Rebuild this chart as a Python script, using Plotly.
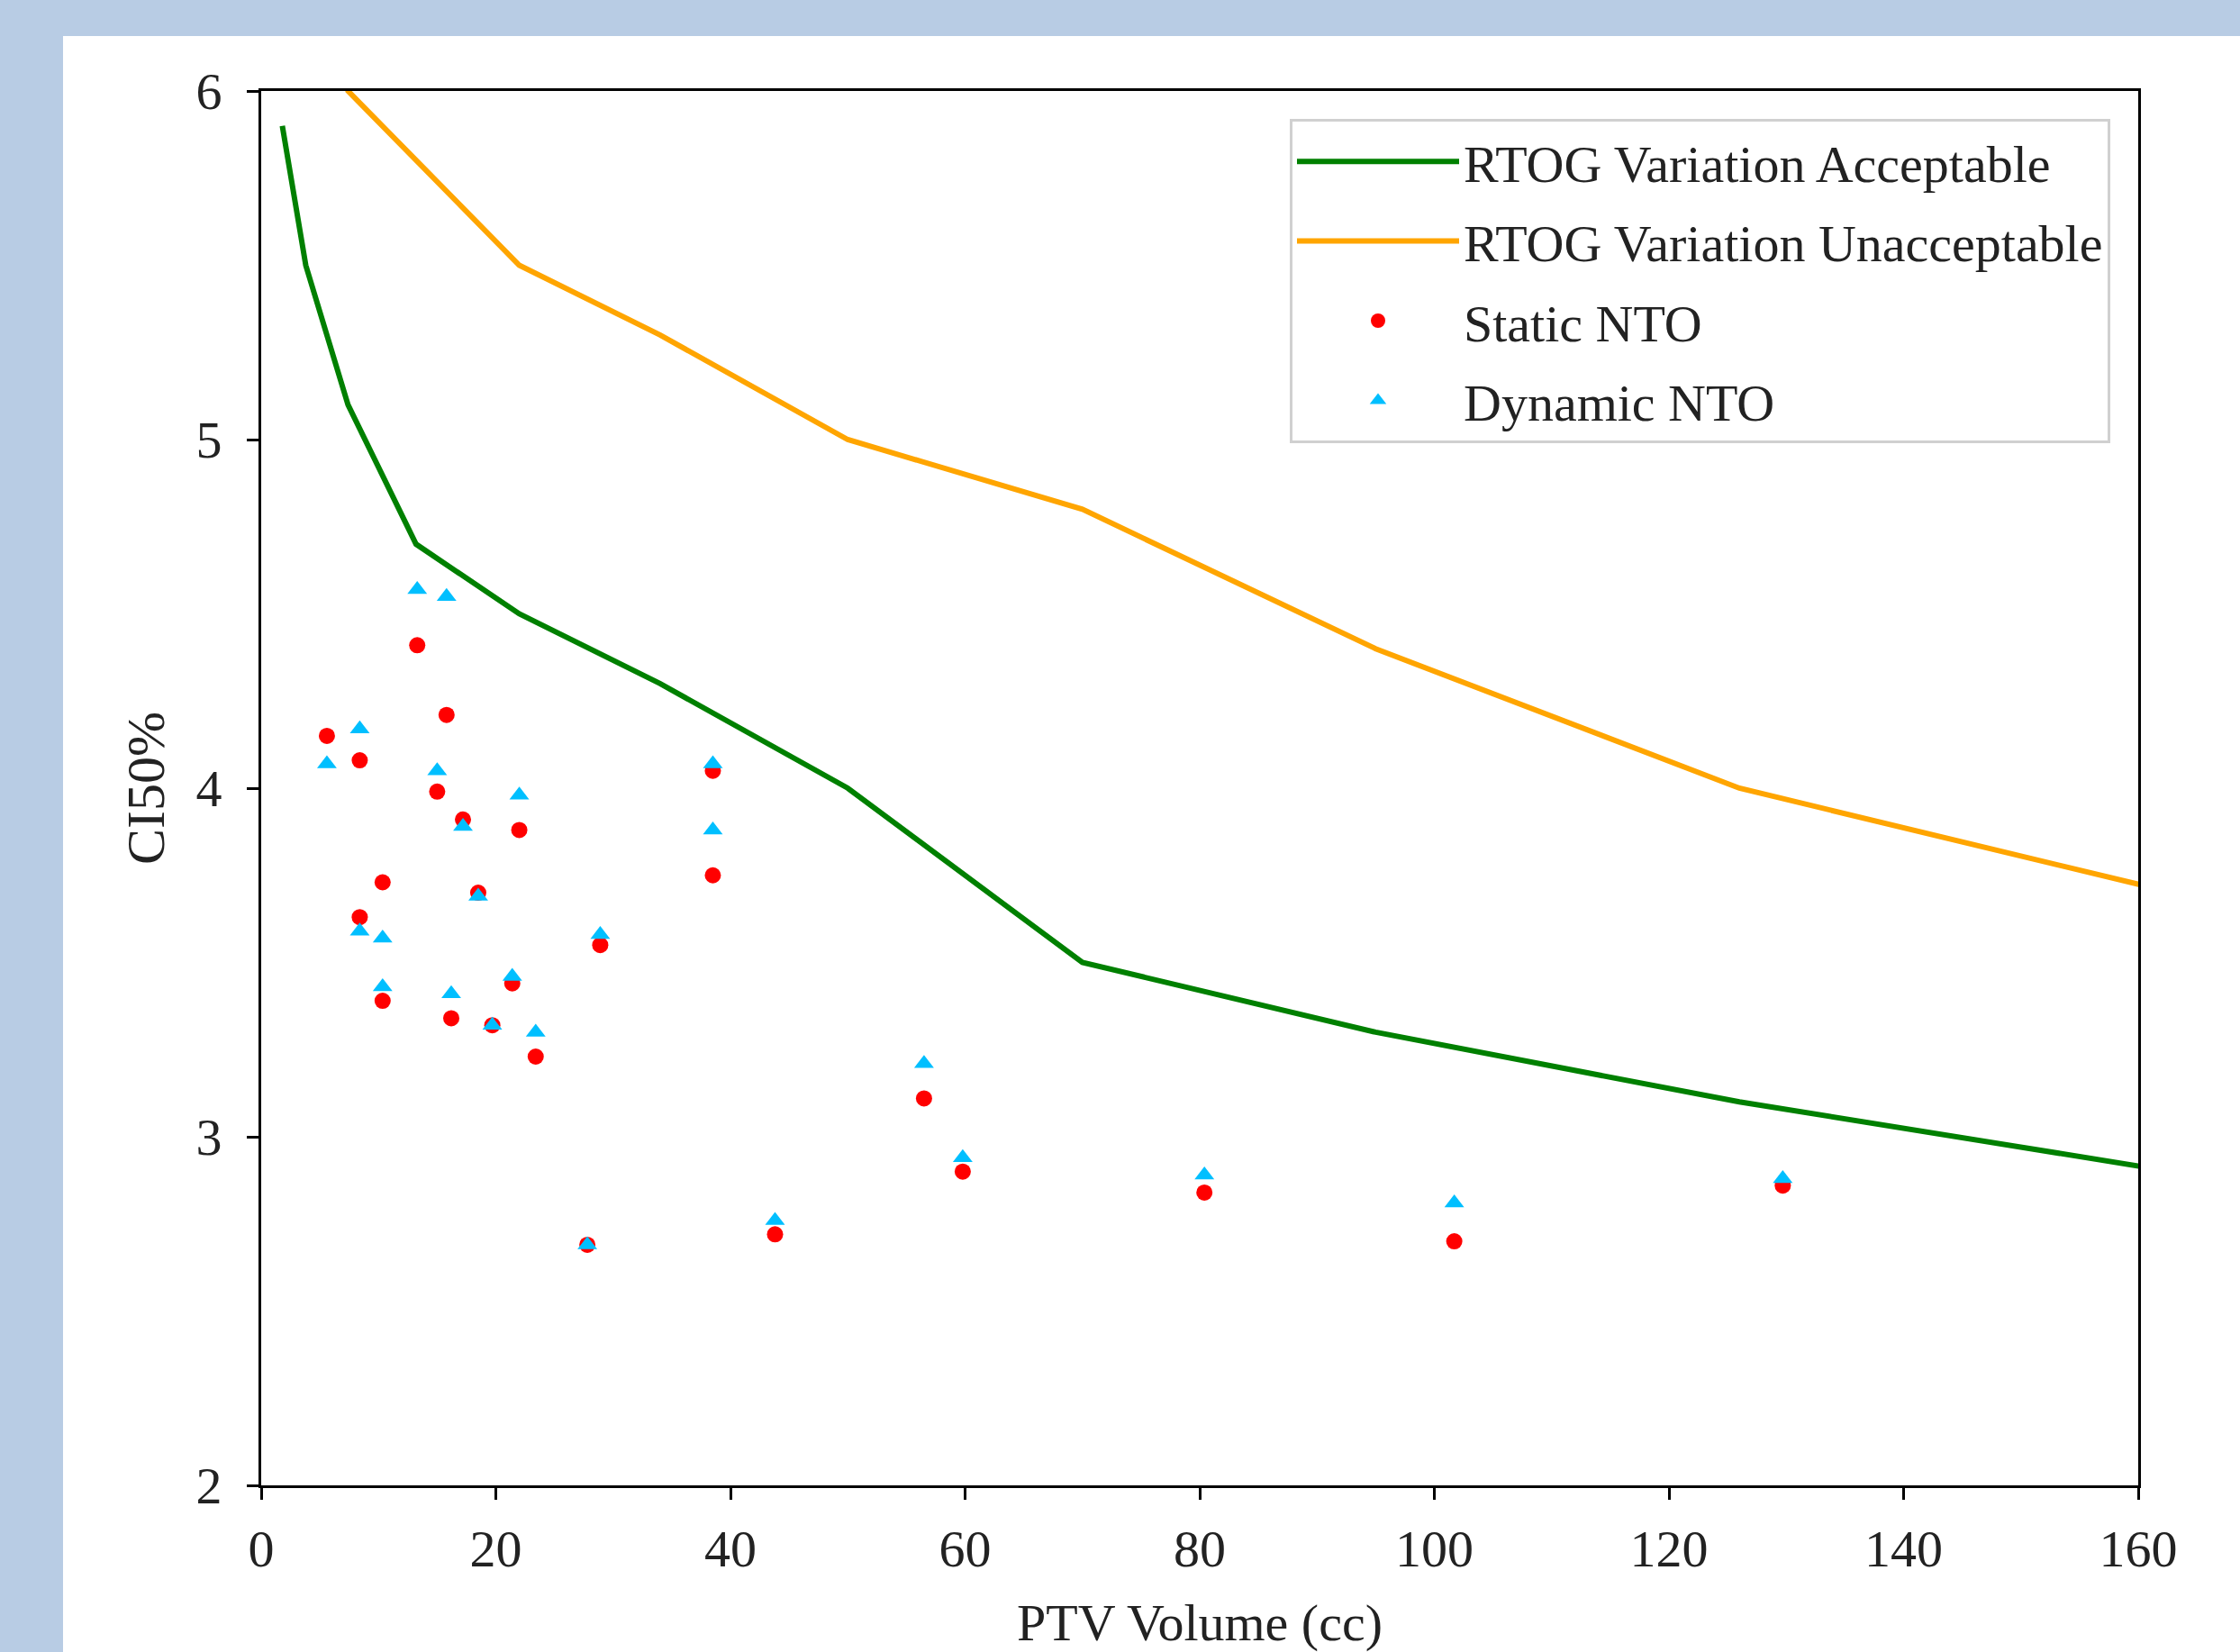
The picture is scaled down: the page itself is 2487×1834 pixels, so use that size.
import plotly.graph_objects as go

# RTOG reference curves
rtog_vol = [1.8, 3.8, 7.4, 13.2, 22.0, 34.0, 50.0, 70.0, 95.0, 126.0, 163.0]
rtog_acceptable = [5.9, 5.5, 5.1, 4.7, 4.5, 4.3, 4.0, 3.5, 3.3, 3.1, 2.9]
rtog_unacceptable = [7.5, 6.5, 6.0, 5.8, 5.5, 5.3, 5.0, 4.8, 4.4, 4.0, 3.7]

# Patient data
ptv_volume = [5.6, 8.4, 13.3, 15.8, 15.0, 10.35, 17.2, 22.0, 8.4, 18.5, 28.9, 38.5, 38.5,
              10.35, 16.2, 19.7, 21.4, 23.4, 27.8, 43.8, 56.5, 59.8, 80.4, 101.7, 129.7]
static_nto = [4.15, 4.08, 4.41, 4.21, 3.99, 3.73, 3.91, 3.88, 3.63, 3.70, 3.55, 4.05, 3.75,
              3.39, 3.34, 3.32, 3.44, 3.23, 2.69, 2.72, 3.11, 2.90, 2.84, 2.70, 2.86]
dynamic_nto = [4.07, 4.17, 4.57, 4.55, 4.05, 3.57, 3.89, 3.98, 3.59, 3.69, 3.58, 4.07, 3.88,
               3.43, 3.41, 3.32, 3.46, 3.30, 2.69, 2.76, 3.21, 2.94, 2.89, 2.81, 2.88]

x_ticks = [0, 20, 40, 60, 80, 100, 120, 140, 160]
y_ticks = [2, 3, 4, 5, 6]

FONT = "Liberation Serif, Times New Roman, serif"

fig = go.Figure()
fig.add_trace(go.Scatter(x=rtog_vol, y=rtog_acceptable, mode="lines",
                         name="RTOG Variation Acceptable", legendgroup="a",
                         line=dict(color="#008000", width=6)))
fig.add_trace(go.Scatter(x=rtog_vol, y=rtog_unacceptable, mode="lines",
                         name="RTOG Variation Unacceptable", legendgroup="b",
                         line=dict(color="#FFA500", width=6)))
fig.add_trace(go.Scatter(x=ptv_volume, y=static_nto, mode="markers", name="Static NTO",
                         legendgroup="c",
                         marker=dict(color="#FF0000", size=18, symbol="circle")))
fig.add_trace(go.Scatter(x=ptv_volume, y=dynamic_nto, mode="markers", name="Dynamic NTO",
                         legendgroup="d",
                         marker=dict(color="#00BFFF", size=19, symbol="triangle-up")))

# plot area: x 290..2374, y 101..1649 in a 2487x1834 page
L, R, T, B = 290, 113, 101, 185
W, H = 2487, 1834
pw, ph = W - L - R, H - T - B

def px_to_paper_x(px):
    return (px - L) / pw

def px_to_paper_y(py):
    return (H - B - py) / ph

fig.add_shape(type="rect", xref="paper", yref="paper",
              x0=px_to_paper_x(70), x1=px_to_paper_x(W + 10),
              y0=px_to_paper_y(H + 10), y1=px_to_paper_y(40),
              fillcolor="white", line=dict(width=0), layer="below")

axis_common = dict(showline=True, linecolor="black", linewidth=3, mirror=True,
                   ticks="outside", ticklen=13, tickwidth=3, tickcolor="black",
                   showgrid=False, zeroline=False,
                   tickfont=dict(family=FONT, size=58, color="#222222"))

fig.update_xaxes(range=[0, 160], tickvals=x_ticks, ticklabelstandoff=4,
                 title=dict(text="PTV Volume (cc)", standoff=34,
                            font=dict(family=FONT, size=58, color="#222222")),
                 automargin=False, **axis_common)
fig.update_yaxes(range=[2, 6], tickvals=y_ticks, ticklabelstandoff=16,
                 title=dict(text="CI50%", standoff=16,
                            font=dict(family=FONT, size=60, color="#222222")),
                 automargin=False, **axis_common)

fig.update_layout(
    width=W, height=H,
    margin=dict(l=L, r=R, t=T, b=B),
    paper_bgcolor="#B8CCE4",
    plot_bgcolor="white",
    font=dict(family=FONT, color="#222222"),
    showlegend=True,
    legend=dict(x=px_to_paper_x(2343), y=px_to_paper_y(132), xanchor="right", yanchor="top",
                bgcolor="white", bordercolor="#D0D0D0", borderwidth=3,
                font=dict(family=FONT, size=58, color="#222222"),
                itemwidth=180, tracegroupgap=10),
)

fig.write_html("out.html", config={"displayModeBar": False},
               post_script="document.body.style.margin='0px';")
